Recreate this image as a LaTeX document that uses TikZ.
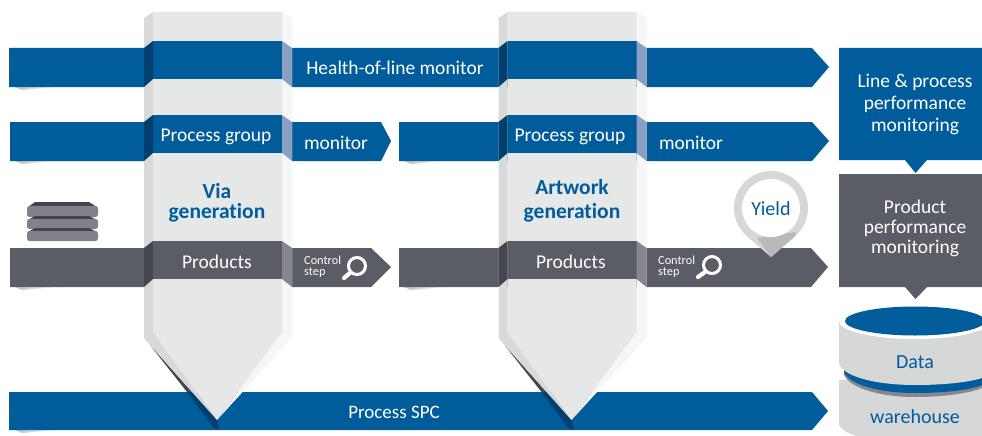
\documentclass[tikz,border=0pt]{standalone}
\usepackage{fontspec}
\setmainfont[Ligatures=NoCommon]{Carlito}
\definecolor{barblue}{HTML}{005C9B}
\definecolor{barblue2}{HTML}{003F6E}
\definecolor{barblue3}{HTML}{8A9FC4}
\definecolor{bargrey}{HTML}{5B5D66}
\definecolor{bargrey2}{HTML}{44464E}
\definecolor{bargrey3}{HTML}{85868E}
\definecolor{colmid}{HTML}{E6E7E7}
\definecolor{colleft}{HTML}{D8D9D9}
\definecolor{colright}{HTML}{F5F7F6}
\definecolor{slab}{HTML}{80818A}
\definecolor{drum}{HTML}{D6D7D7}
\tikzset{
  whitelabel/.style={text=white,font=\fontsize{19.5}{20}\selectfont,inner sep=0pt},
  bluelabel/.style={text=barblue,font=\fontsize{20}{20}\selectfont,inner sep=0pt},
  headlabel/.style={text=barblue,font=\bfseries\fontsize{21.5}{24}\selectfont,align=center,inner sep=0pt},
  boxlabel/.style={text=white,font=\fontsize{19.5}{22}\selectfont,align=center,inner sep=0pt},
  smalllabel/.style={text=white,font=\fontsize{12.3}{11}\selectfont,align=left,inner sep=0pt,anchor=west},
  lens/.style={draw=white,line width=3pt},
  lenshandle/.style={draw=white,line width=4.2pt,line cap=round},
  barshadow/.style={left color=gray!50,right color=white}
}
\begin{document}
\begin{tikzpicture}[x=1pt,y=-1pt]
    \useasboundingbox (0,0) rectangle (982,436);
    % shadows under the left bar ends
    \shade[barshadow] (15,87) -- (58,87) -- (22,90) -- cycle;
    \shade[barshadow] (15,161) -- (58,161) -- (22,164) -- cycle;
    \shade[barshadow] (15,287) -- (58,287) -- (22,290) -- cycle;
    \shade[barshadow] (15,430) -- (58,430) -- (22,433) -- cycle;
    \shade[barshadow] (404,161) -- (447,161) -- (411,164) -- cycle;
    \shade[barshadow] (404,287) -- (447,287) -- (411,290) -- cycle;
    % bars
    \fill[barblue] (9,48) -- (812,48) -- (829,67) -- (812,87) -- (9,87) -- cycle;
    \fill[barblue] (10,122) -- (381,122) -- (391,141) -- (381,161) -- (10,161) -- cycle;
    \fill[barblue] (399,122) -- (812,122) -- (829,141) -- (812,161) -- (399,161) -- cycle;
    \fill[bargrey] (10,248) -- (371,248) -- (391,267) -- (371,287) -- (10,287) -- cycle;
    \fill[bargrey] (399,248) -- (811,248) -- (828,267) -- (811,287) -- (399,287) -- cycle;
    \fill[barblue] (9,392) -- (812,392) -- (828,411) -- (812,430) -- (9,430) -- cycle;
    % first column
    \fill[barblue2] (187,392) -- (192,392) -- (217,420) -- (219,430) -- (214,428) -- cycle;
    \fill[bargrey2] (150,345) -- (192,392) -- (187,392) -- cycle;
    \fill[colright] (282,12) -- (292,18) -- (292,338) -- (217,420) -- (282,332) -- cycle;
    \fill[colleft] (153,12) -- (144,18) -- (144,338) -- (217,420) -- (153,332) -- cycle;
    \fill[colmid] (153,12) -- (282,12) -- (282,332) -- (217,420) -- (153,332) -- cycle;
    \fill[barblue] (153,41) rectangle (282,79);
    \fill[barblue2] (144,48) -- (153,41) -- (153,79) -- (144,87) -- cycle;
    \fill[barblue3] (282,41) -- (292,48) -- (292,87) -- (282,79) -- cycle;
    \fill[barblue] (153,115) rectangle (282,153);
    \fill[barblue2] (144,122) -- (153,115) -- (153,153) -- (144,161) -- cycle;
    \fill[barblue3] (282,115) -- (292,122) -- (292,161) -- (282,153) -- cycle;
    \fill[bargrey] (153,241) rectangle (282,279);
    \fill[bargrey2] (144,248) -- (153,241) -- (153,279) -- (144,287) -- cycle;
    \fill[bargrey3] (282,241) -- (292,248) -- (292,287) -- (282,279) -- cycle;
    % second column
    \fill[barblue2] (541.5,392) -- (546.5,392) -- (571.5,420) -- (573.5,430) -- (568.5,428) -- cycle;
    \fill[bargrey2] (504.5,345) -- (546.5,392) -- (541.5,392) -- cycle;
    \fill[colright] (636.5,12) -- (646.5,18) -- (646.5,338) -- (571.5,420) -- (636.5,332) -- cycle;
    \fill[colleft] (507.5,12) -- (498.5,18) -- (498.5,338) -- (571.5,420) -- (507.5,332) -- cycle;
    \fill[colmid] (507.5,12) -- (636.5,12) -- (636.5,332) -- (571.5,420) -- (507.5,332) -- cycle;
    \fill[barblue] (507.5,41) rectangle (636.5,79);
    \fill[barblue2] (498.5,48) -- (507.5,41) -- (507.5,79) -- (498.5,87) -- cycle;
    \fill[barblue3] (636.5,41) -- (646.5,48) -- (646.5,87) -- (636.5,79) -- cycle;
    \fill[barblue] (507.5,115) rectangle (636.5,153);
    \fill[barblue2] (498.5,122) -- (507.5,115) -- (507.5,153) -- (498.5,161) -- cycle;
    \fill[barblue3] (636.5,115) -- (646.5,122) -- (646.5,161) -- (636.5,153) -- cycle;
    \fill[bargrey] (507.5,241) rectangle (636.5,279);
    \fill[bargrey2] (498.5,248) -- (507.5,241) -- (507.5,279) -- (498.5,287) -- cycle;
    \fill[bargrey3] (636.5,241) -- (646.5,248) -- (646.5,287) -- (636.5,279) -- cycle;
    % stack of wafers
    \fill[bargrey2] (35,202) -- (89,202) -- (97,207) -- (28,207) -- cycle;
    \fill[slab,rounded corners=2.5pt] (27,206) rectangle (98,217);
    \fill[bargrey2] (35,216) -- (89,216) -- (97,220) -- (28,220) -- cycle;
    \fill[slab,rounded corners=2.5pt] (27,219) rectangle (98,229);
    \fill[bargrey2] (35,228) -- (89,228) -- (97,232) -- (28,232) -- cycle;
    \fill[slab,rounded corners=2.5pt] (27,231) rectangle (98,241);
    % magnifiers
    \draw[lens] (357,266) circle (8.5);
    \draw[lenshandle] (350,273) -- (344,278);
    \draw[lens] (712,265) circle (8.5);
    \draw[lenshandle] (705,272) -- (698,277);
    % right boxes
    \fill[barblue] (839,48) -- (982,48) -- (982,160) -- (927,160) -- (915.5,173) -- (905,160) -- (839,160) -- cycle;
    \fill[bargrey] (839,174) -- (982,174) -- (982,287) -- (927,287) -- (915.5,299) -- (905,287) -- (839,287) -- cycle;
    % data drum
    \fill[drum] (839,380) -- (839,425) .. controls (842,431) and (850,434) .. (857,436) -- (982,436) -- (982,380) -- cycle;
    \fill[bargrey3] (844,375) .. controls (850,388) and (880,397) .. (915,397) .. controls (945,397) and (970,393) .. (982,388) -- (982,370) -- (844,370) -- cycle;
    \fill[barblue] (844,372) .. controls (850,385) and (880,393) .. (915,393) .. controls (945,393) and (970,390) .. (982,385) -- (982,365) -- (844,365) -- cycle;
    \fill[drum] (839,321) -- (839,364) .. controls (845,378) and (880,385) .. (915,385) .. controls (945,385) and (970,382) .. (982,378) -- (982,321) -- cycle;
    \fill[white] (915,321) ellipse (76 and 18);
    \fill[barblue] (915,321) ellipse (70 and 14.5);
    % yield pin
    \fill[drum] (771,208) circle (37);
    \fill[drum] (746.7,236) -- (795.3,236) -- (771,257) -- cycle;
    \fill[gray!55] (757,238) -- (795.3,232) -- (795.3,236) -- (771,257) -- cycle;
    \fill[white] (771,208) circle (29);
    % labels
    \node[whitelabel] (health) at (395,67.5) {Health-of-line monitor};
    \node[whitelabel] (groupa) at (216,136.5) {Process group};
    \node[whitelabel] (groupb) at (570,136.5) {Process group};
    \node[whitelabel] (monitora) at (336,142.5) {monitor};
    \node[whitelabel] (monitorb) at (691,142.5) {monitor};
    \node[headlabel,font=\bfseries\fontsize{21.5}{20}\selectfont] (via) at (217,203) {Via\\generation};
    \node[headlabel] (artwork) at (572,201) {Artwork\\generation};
    \node[whitelabel] (productsa) at (217,262) {Products};
    \node[whitelabel] (productsb) at (571,262) {Products};
    \node[smalllabel] (controla) at (304,267) {Control\\step};
    \node[smalllabel] (controlb) at (658,267) {Control\\step};
    \node[whitelabel,font=\fontsize{19}{20}\selectfont] (spc) at (394,412) {Process SPC};
    \node[bluelabel] (yield) at (771,208.5) {Yield};
    \node[boxlabel] (line) at (915,104) {Line \& process\\performance\\monitoring};
    \node[boxlabel,font=\fontsize{19.5}{20}\selectfont] (product) at (915,228) {Product\\performance\\monitoring};
    \node[bluelabel] (data) at (915,362) {Data};
    \node[bluelabel] (warehouse) at (915,417) {warehouse};
\end{tikzpicture}
\end{document}
